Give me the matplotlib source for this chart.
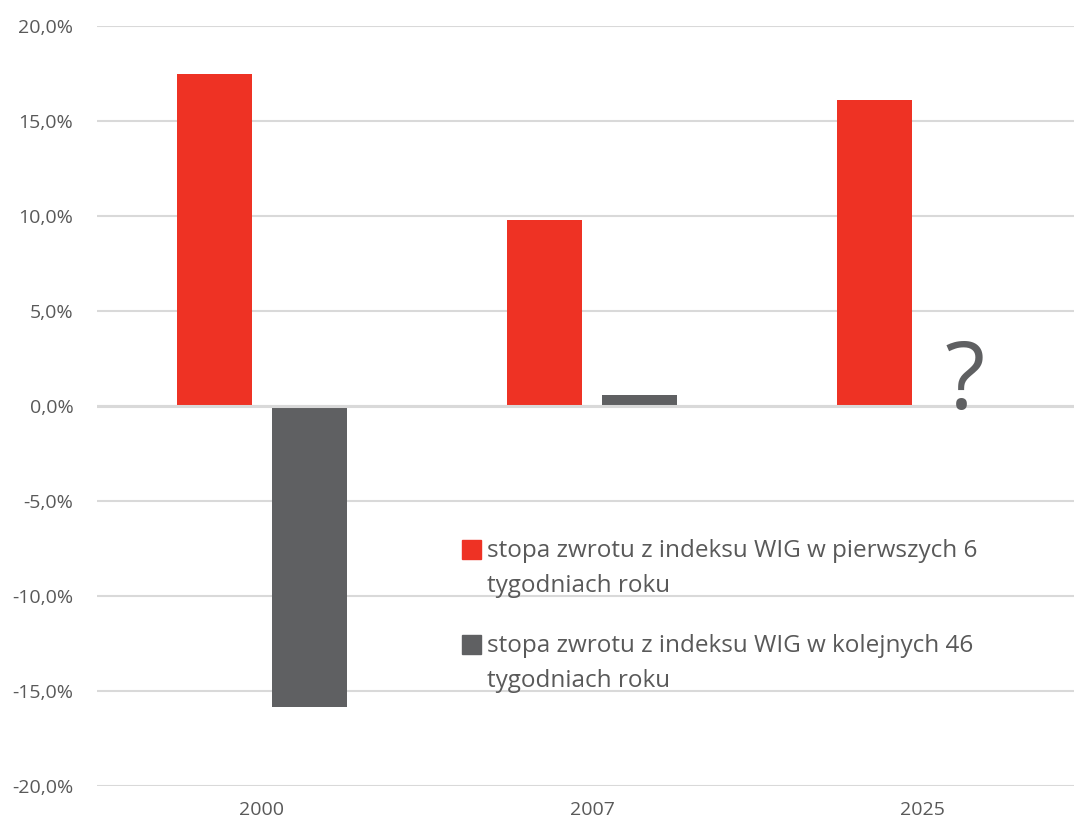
import matplotlib
matplotlib.use("Agg")
import matplotlib.pyplot as plt
import matplotlib.ticker as ticker
from matplotlib.patches import Rectangle
import numpy as np

# data (percent)
years = ["2000", "2007", "2025"]
first_6_weeks = [17.45, 9.8, 16.1]
next_46_weeks = [-15.85, 0.6, None]
labels = [["stopa zwrotu z indeksu WIG w pierwszych 6", "tygodniach roku"],
          ["stopa zwrotu z indeksu WIG w kolejnych 46", "tygodniach roku"]]

RED = "#ee3224"
GREY = "#5f6062"
TEXT = "#595959"
GRID = "#d9d9d9"

plt.rcParams["font.family"] = ["Open Sans", "DejaVu Sans"]

W, H = 1074, 825
fig = plt.figure(figsize=(W / 100, H / 100), dpi=100)
ax = fig.add_axes([97 / W, 39 / H, (W - 97) / W, (786 - 26) / H])

x = np.arange(len(years))
bw = 0.227
off = 0.144
ax.bar(x - off, first_6_weeks, bw, color=RED, zorder=2)
gx = [xi + off for xi, v in zip(x, next_46_weeks) if v is not None]
gv = [v for v in next_46_weeks if v is not None]
ax.bar(gx, gv, bw, color=GREY, zorder=2)

ax.set_xlim(-0.5, 2.5 - 13 / 330)
ax.set_ylim(-20, 20)
ax.yaxis.set_major_locator(ticker.MultipleLocator(5))
ax.yaxis.set_major_formatter(ticker.FuncFormatter(lambda v, p: f"{v:.1f}%".replace(".", ",")))
ax.set_xticks(x)
ax.set_xticklabels(years)

ax.grid(axis="y", color=GRID, linewidth=1.5, zorder=0)
ax.axhline(0, color=GRID, linewidth=2.2, zorder=3)
for s in ax.spines.values():
    s.set_visible(False)
ax.tick_params(length=0, colors=TEXT, labelsize=14)
ax.tick_params(axis="y", pad=17)
ax.tick_params(axis="x", pad=11)

# question mark for the unknown 2025 value
ax.text(2 + 0.13, -0.15, "?", fontsize=67, color=GREY, ha="center",
        va="baseline", zorder=4)


# legend drawn by hand so the swatch sits on the first line (as in the original)
def px(xp, yp):
    return xp / W, (H - yp) / H


for (l1, l2), col, base in zip(labels, [RED, GREY], [557, 652]):
    sx, sy = px(462, base + 2)
    fig.patches.append(Rectangle((sx, sy), 19 / W, 19 / H, color=col,
                                 transform=fig.transFigure, figure=fig))
    for i, line in enumerate([l1, l2]):
        tx, ty = px(487, base + 35 * i)
        fig.text(tx, ty, line, fontsize=17.5, color=TEXT, va="baseline", ha="left")

fig.savefig("out.png", dpi=100)
